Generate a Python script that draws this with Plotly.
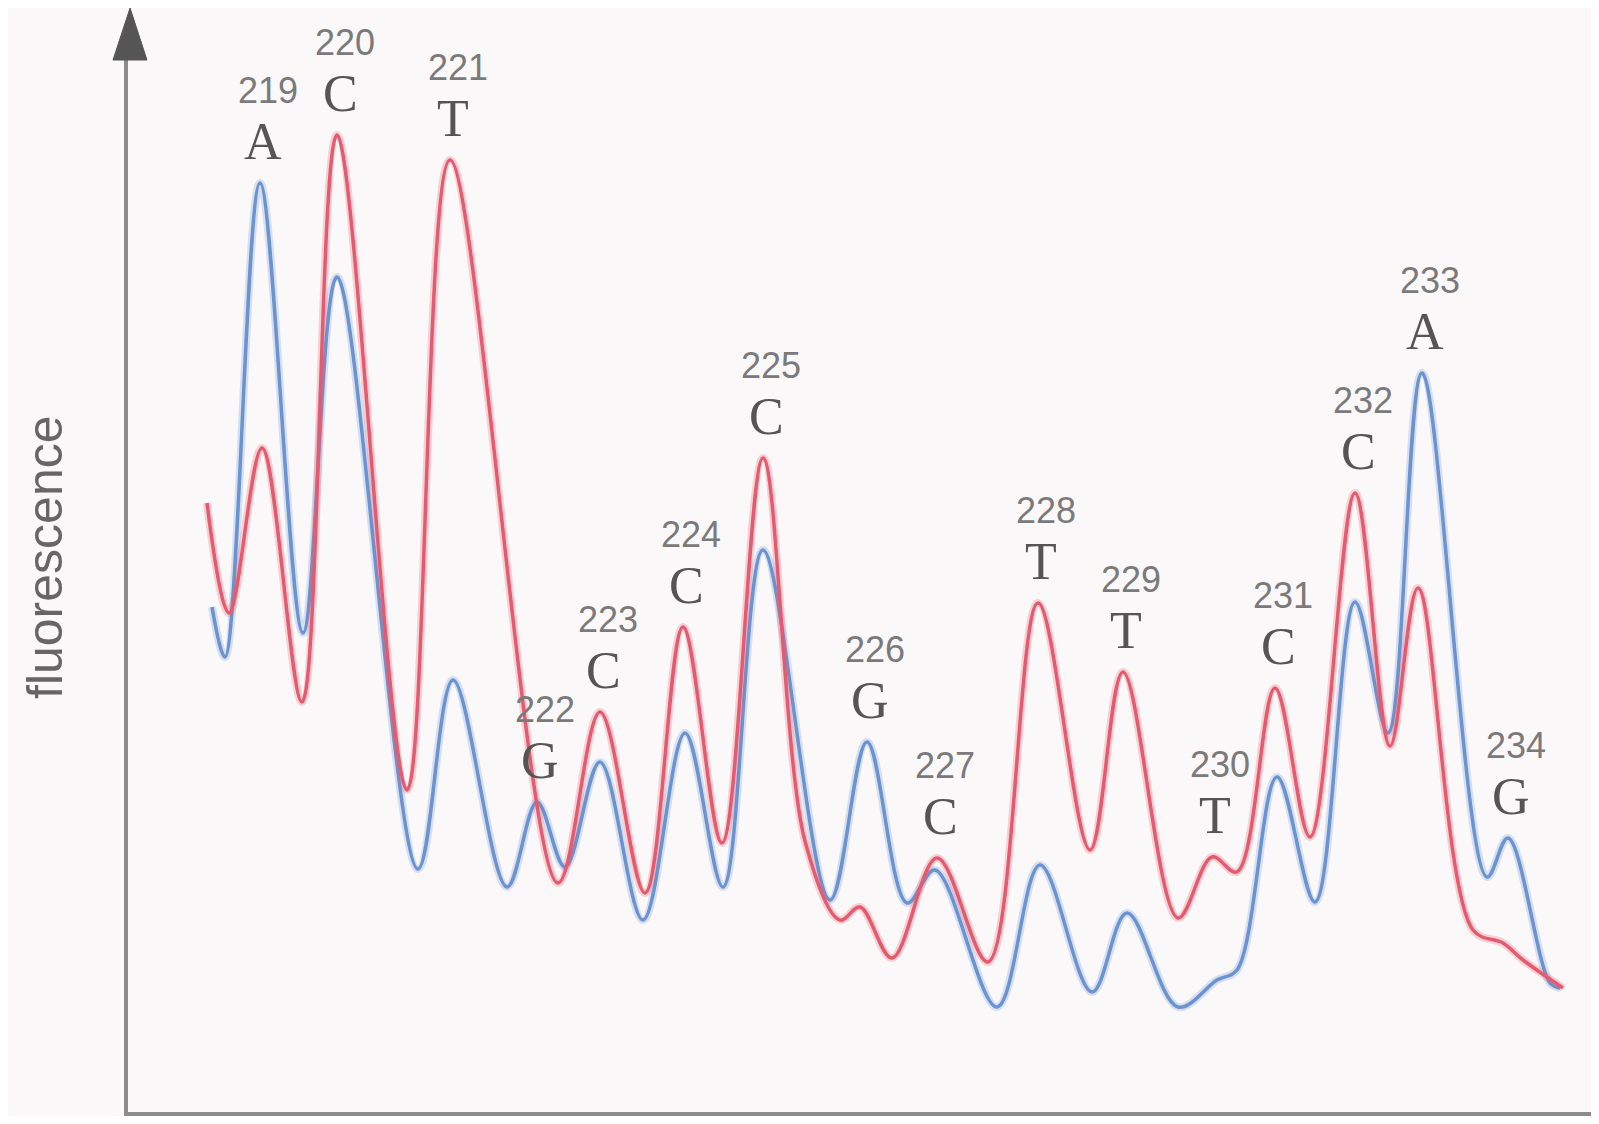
import plotly.graph_objects as go

# scan position / fluorescence (arbitrary units)
red_x = [79, 101, 134, 174, 209, 279, 322, 430, 472, 517, 555, 594, 635, 677, 712, 732, 764,
         809, 860, 910, 962, 995, 1050, 1084, 1109, 1147, 1182, 1227, 1262, 1290, 1345, 1375,
         1395, 1435]
red_y = [613, 503, 668, 414, 981, 326, 956, 233, 404, 223, 489, 273, 658, 275, 196, 209, 158,
         258, 154, 513, 266, 444, 198, 259, 244, 428, 279, 623, 370, 528, 186, 173, 156, 128]

blue_x = [84, 97, 132, 175, 209, 290, 325, 379, 409, 437, 472, 515, 557, 595, 635, 702, 739,
          779, 807, 869, 912, 964, 999, 1050, 1089, 1109, 1149, 1187, 1227, 1260, 1294, 1359,
          1380, 1422, 1432]
blue_y = [509, 459, 933, 483, 839, 247, 436, 229, 314, 249, 354, 196, 383, 229, 566, 216, 374,
          213, 246, 109, 251, 124, 203, 109, 136, 146, 339, 214, 514, 383, 743, 239, 278, 133,
          128]

# base calls
base_no = list(range(219, 235))
base_call = ['A', 'C', 'T', 'G', 'C', 'C', 'C', 'G', 'C', 'T', 'T', 'T', 'C', 'C', 'A', 'G']
call_x = [132, 209, 322, 409, 472, 555, 635, 739, 809, 910, 995, 1084, 1147, 1227, 1294, 1380]
call_y = [933, 981, 956, 314, 404, 489, 658, 374, 258, 513, 444, 259, 428, 623, 743, 278]

fig = go.Figure()

for xs, ys, col in [(blue_x, blue_y, '106,147,210'), (red_x, red_y, '229,90,110')]:
    fig.add_trace(go.Scatter(x=xs, y=ys, mode='lines',
                             line=dict(color='rgba(%s,0.25)' % col, width=8, shape='spline', smoothing=1),
                             hoverinfo='skip'))
    fig.add_trace(go.Scatter(x=xs, y=ys, mode='lines',
                             line=dict(color='rgb(%s)' % col, width=3.5, shape='spline', smoothing=1)))

for n, c, x, y in zip(base_no, base_call, call_x, call_y):
    fig.add_annotation(x=x, y=y, text=str(n), showarrow=False, xshift=8, yshift=93,
                       font=dict(family='Liberation Sans', size=36, color='#7a7a7a'))
    fig.add_annotation(x=x, y=y, text=c, showarrow=False, xshift=3, yshift=42,
                       font=dict(family='Liberation Serif', size=52, color='#555555'))

# y axis title
fig.add_annotation(xref='paper', yref='paper', x=-0.0564, y=0.5256, text='fluorescence',
                   textangle=-90, showarrow=False, xanchor='center', yanchor='middle',
                   font=dict(family='Liberation Sans', size=50, color='#666666'))

# arrow head on the y axis
fig.add_shape(type='path', xref='paper', yref='paper',
              path='M 0.0014 1.0455 L -0.0102 0.9962 L 0.0129 0.9962 Z',
              fillcolor='#555555', line=dict(color='#555555', width=1))

axis_style = dict(showline=True, linecolor='#8c8c8c', linewidth=4, showgrid=False,
                  zeroline=False, showticklabels=False, ticks='')
fig.update_xaxes(range=[0, 1471], **axis_style)
fig.update_yaxes(range=[4, 1060], **axis_style)

# page body has an 8px margin, so the figure is sized to fit the window without scrolling
fig.update_layout(autosize=False, width=1591, height=1108, showlegend=False,
                  margin=dict(l=120, r=0, t=48, b=4),
                  paper_bgcolor='#fbf8f9', plot_bgcolor='#fbf8f9')

fig.write_html('out.html')
